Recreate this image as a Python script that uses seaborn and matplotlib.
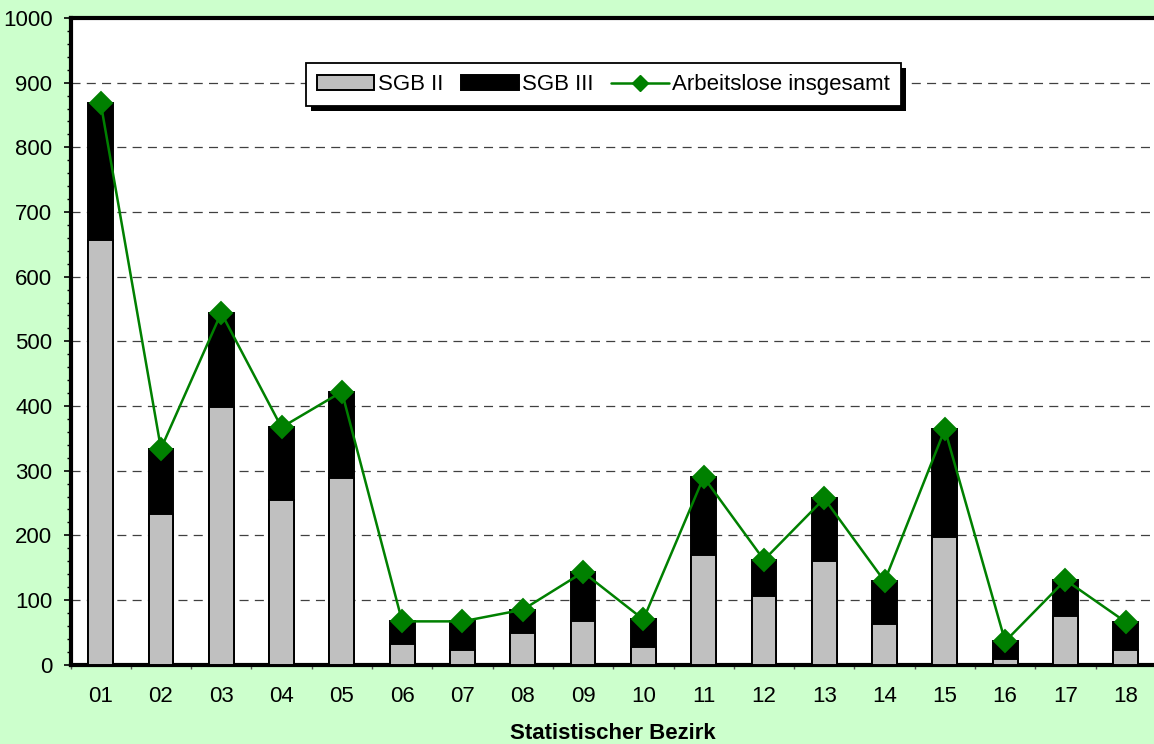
import numpy as np
import pandas as pd
import matplotlib
matplotlib.use("Agg")
import matplotlib.pyplot as plt
from matplotlib.patches import Patch, Rectangle
from matplotlib.lines import Line2D
from matplotlib.transforms import IdentityTransform
from matplotlib.ticker import MultipleLocator, FixedLocator, NullFormatter
import seaborn as sns

# Arbeitslose je statistischem Bezirk
bezirke = ["01", "02", "03", "04", "05", "06", "07", "08", "09",
           "10", "11", "12", "13", "14", "15", "16", "17", "18"]
sgb2 = [657, 233, 398, 255, 288, 32, 22, 49, 67, 28, 170, 107, 161, 63, 197, 9, 76, 23]
sgb3 = [212, 101, 146, 112, 134, 35, 45, 36, 76, 42, 120, 55, 96, 66, 167, 27, 55, 43]
insgesamt = [a + b for a, b in zip(sgb2, sgb3)]

df = pd.DataFrame({"Bezirk": bezirke, "SGB II": sgb2, "SGB III": sgb3,
                   "Insgesamt": insgesamt})

sns.set_theme(style="white")
plt.rcParams["font.family"] = ["Liberation Sans", "DejaVu Sans"]
plt.rcParams["lines.scale_dashes"] = False
for key in ("text.color", "axes.labelcolor", "xtick.color", "ytick.color",
            "xtick.labelcolor", "ytick.labelcolor"):
    plt.rcParams[key] = "black"

BG = "#CCFFCC"
GREEN = "#008000"
GRAY = "#C0C0C0"
FS = 16

fig = plt.figure(figsize=(11.54, 7.44), dpi=100, facecolor=BG)
ax = fig.add_axes([70.5 / 1154, 1 - 664.7 / 744, 1085.4 / 1154, 646.7 / 744])
ax.set_facecolor("white")

# stacked bars: full height in black, SGB II part in grey over it
sns.barplot(data=df, x="Bezirk", y="Insgesamt", order=bezirke, color="black",
            saturation=1, width=0.41, edgecolor="black", linewidth=1.4,
            ax=ax, zorder=2)
sns.barplot(data=df, x="Bezirk", y="SGB II", order=bezirke, color=GRAY,
            saturation=1, width=0.41, edgecolor="black", linewidth=1.4,
            ax=ax, zorder=3)
sns.pointplot(data=df, x="Bezirk", y="Insgesamt", order=bezirke, color=GREEN,
              markers="D", markersize=11.5, linewidth=1.8, errorbar=None,
              ax=ax, zorder=4)

ax.set_xlim(-0.5, len(bezirke) - 0.5)
ax.set_ylim(0, 1000)

# y axis
ax.yaxis.set_major_locator(MultipleLocator(100))
ax.yaxis.set_minor_locator(MultipleLocator(20))
ax.tick_params(axis="y", which="major", direction="out", length=5, width=1.2,
               color="black", labelsize=FS, pad=8, left=True,
               labelcolor="black")
ax.tick_params(axis="y", which="minor", direction="out", length=2.8, width=1.0,
               color="black", left=True)

# x axis: labels at the centres, tick marks between the districts
ax.xaxis.set_minor_locator(FixedLocator(np.arange(-0.5, len(bezirke), 1.0)))
ax.xaxis.set_minor_formatter(NullFormatter())
ax.tick_params(axis="x", which="major", length=0, labelsize=FS, pad=15,
               labelcolor="black")
ax.tick_params(axis="x", which="minor", direction="out", length=3, width=1.0,
               color="#555555", bottom=True)

ax.set_xlabel("Statistischer Bezirk", fontsize=FS, fontweight="bold",
              labelpad=12, color="black")
ax.set_ylabel("")

# dashed horizontal grid behind the bars
ax.set_axisbelow(True)
ax.yaxis.grid(True, which="major", linestyle=(0, (6.5, 4.5)), color="#404040",
              linewidth=0.9)
ax.xaxis.grid(False)

for side in ("left", "top", "bottom"):
    ax.spines[side].set_visible(True)
    ax.spines[side].set_color("black")
    ax.spines[side].set_linewidth(3.0)
ax.spines["right"].set_visible(False)

handles = [
    Patch(facecolor=GRAY, edgecolor="black", linewidth=1.4, label="SGB II"),
    Patch(facecolor="black", edgecolor="black", linewidth=1.4, label="SGB III"),
    Line2D([], [], color=GREEN, marker="D", markersize=8.5, linewidth=1.8,
           label="Arbeitslose insgesamt"),
]
leg = ax.legend(handles=handles, loc="center", bbox_to_anchor=(0.491, 0.897),
                ncol=3, frameon=True, fancybox=False, fontsize=FS,
                handlelength=2.6, handleheight=0.63, handletextpad=0.15,
                columnspacing=0.8, borderpad=0.5, borderaxespad=0)
leg.get_frame().set_edgecolor("black")
leg.get_frame().set_linewidth(1.3)
leg.get_frame().set_facecolor("white")
leg.get_frame().set_alpha(1)
leg.set_zorder(6)
for t in leg.get_texts():
    t.set_color("black")

# solid drop shadow behind the legend box
fig.canvas.draw()
bb = leg.get_window_extent()
shadow = Rectangle((bb.x0 + 5, bb.y0 - 5), bb.width, bb.height,
                   transform=IdentityTransform(), facecolor="black",
                   edgecolor="none", zorder=5.5)
ax.add_artist(shadow)

fig.savefig("out.png", dpi=100, facecolor=BG)
